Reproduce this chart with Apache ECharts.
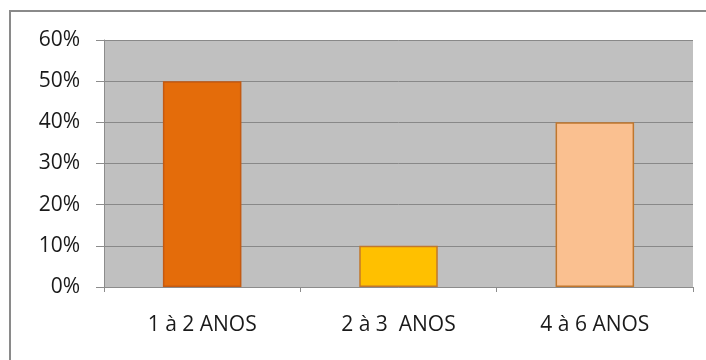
<!DOCTYPE html>
<html>
<head>
<meta charset="utf-8">
<script src="https://cdn.jsdelivr.net/npm/echarts@6/dist/echarts.min.js"></script>
<style>
  html, body { margin: 0; padding: 0; background: #fff; }
  #frame { position: absolute; left: 9px; top: 10px; width: 720px; height: 360px;
           border-top: 2px solid #8a8a8a; border-left: 2px solid #8a8a8a; }
  #chart { position: absolute; left: 0; top: 0; width: 706px; height: 360px; }
</style>
</head>
<body>
<div id="frame"></div>
<div id="chart"></div>
<script>
// Age groups and their share of respondents (%)
const categories = ['1 à 2 ANOS', '2 à 3  ANOS', '4 à 6 ANOS'];
const shares = [50, 10, 40];
const barColors = ['#E46C0A', '#FFC000', '#FAC090'];
const barBorders = ['#C55A11', '#C0772E', '#C0772E'];

const chart = echarts.init(document.getElementById('chart'), null, { renderer: 'canvas' });
chart.setOption({
  animation: false,
  grid: {
    left: 104, right: 13, top: 40, bottom: 73,
    show: true, backgroundColor: '#C0C0C0', borderWidth: 0
  },
  xAxis: {
    type: 'category',
    data: categories,
    axisLine: { lineStyle: { color: '#8c8c8c', width: 1 } },
    axisTick: { show: true, length: 5, alignWithLabel: false, lineStyle: { color: '#8c8c8c' } },
    axisLabel: { color: '#1a1a1a', fontSize: 21, fontFamily: 'Open Sans', margin: 28 }
  },
  yAxis: {
    type: 'value',
    min: 0, max: 60, interval: 10,
    axisLine: { show: true, lineStyle: { color: '#8c8c8c', width: 1 } },
    axisTick: { show: true, length: 8, lineStyle: { color: '#8c8c8c' } },
    splitLine: { lineStyle: { color: '#888888', width: 1 } },
    axisLabel: { color: '#1a1a1a', fontSize: 21, fontFamily: 'Open Sans', margin: 24,
                 formatter: v => v + '%' }
  },
  series: [{
    type: 'bar',
    barWidth: '40%',
    data: shares.map((v, i) => ({
      value: v,
      itemStyle: { color: barColors[i], borderColor: barBorders[i], borderWidth: 1.5 }
    }))
  }]
});
</script>
</body>
</html>
